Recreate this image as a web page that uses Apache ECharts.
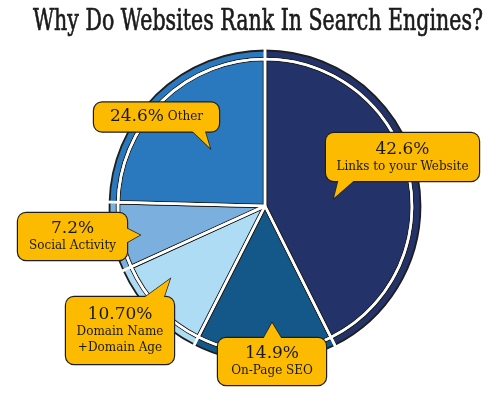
<!DOCTYPE html>
<html>
<head>
<meta charset="utf-8">
<script src="https://cdn.jsdelivr.net/npm/echarts@6/dist/echarts.min.js"></script>
<style>html,body{margin:0;padding:0;background:#fff}#c{width:500px;height:401px}</style>
</head>
<body>
<div id="c"></div>
<script>
// ---- data ----
const titleText = 'Why Do Websites Rank In Search Engines?';
const categories = ['Links to your Website', 'On-Page SEO', 'Domain Name\n+Domain Age', 'Social Activity', 'Other'];
const values = [42.6, 14.9, 10.7, 7.2, 24.6];
const pctLabels = ['42.6%', '14.9%', '10.70%', '7.2%', '24.6%'];
const colors = ['#23336a', '#145789', '#aedcf5', '#7bafdd', '#2a78bd'];

// ---- layout (callout boxes: center x, center y, width, vertical padding, single line) ----
const boxes = [
  {x: 402.5, y: 157, w: 153, pad: [7, 0, 6, 0], one: false},
  {x: 272, y: 361.5, w: 108, pad: [6, 0, 6, 0], one: false},
  {x: 120, y: 330.5, w: 108, pad: [8, 0, 8, 0], one: false},
  {x: 72.5, y: 236.5, w: 109, pad: [6, 0, 6, 0], one: false},
  {x: 156.5, y: 117, w: 125, pad: [5, 0, 5, 0], one: true}
];
const tails = [
  [[339, 178], [357, 178], [334, 198]],
  [[262, 341], [283, 341], [272, 323]],
  [[141, 300], [163, 300], [170, 279]],
  [[124, 227], [124, 244], [140, 235]],
  [[189, 128], [204, 128], [210, 148]]
];
const CENTER = [265, 206];
const R_IN = 147, R_OUT = 155.5;
const YELLOW = '#fdbb00', DARK = '#1e1e1e';
const FONT = '"DejaVu Serif", serif';

const chart = echarts.init(document.getElementById('c'), null, {renderer: 'canvas'});

const colored = values.map((v, i) => ({value: v, name: categories[i], itemStyle: {color: colors[i]}}));
const clear = values.map((v, i) => ({value: v, name: categories[i], itemStyle: {color: 'rgba(0,0,0,0)'}}));

const labelled = values.map((v, i) => {
  const b = boxes[i];
  return {
    value: v, name: categories[i],
    itemStyle: {color: 'rgba(0,0,0,0)'},
    label: {width: b.w, padding: b.pad}
  };
});

// title measurement for horizontal condensing
const TITLE_FONT = '30px "DejaVu Serif"';
const mctx = document.createElement('canvas').getContext('2d');
mctx.font = TITLE_FONT;
const tw = mctx.measureText(titleText).width;
const titleScale = 450 / tw;

const base = {
  type: 'pie', center: CENTER, startAngle: 90, clockwise: true, silent: true,
  animation: false, label: {show: false}, labelLine: {show: false}, emphasis: {disabled: true}
};

const graphics = [];
tails.forEach(t => {
  graphics.push({type: 'polygon', z: 50, silent: true, shape: {points: t},
    style: {fill: YELLOW, stroke: DARK, lineWidth: 1.4}});
  graphics.push({type: 'polygon', z: 150, silent: true, shape: {points: t},
    style: {fill: YELLOW, stroke: null}});
});
graphics.push({
  type: 'text', x: 258, y: 22, z: 200, scaleX: titleScale, scaleY: 1, silent: true,
  style: {text: titleText, font: TITLE_FONT, fill: '#1a1a1a', stroke: '#1a1a1a', lineWidth: 0.7,
    textAlign: 'center', textVerticalAlign: 'middle'}
});

chart.setOption({
  backgroundColor: '#ffffff',
  animation: false,
  graphic: graphics,
  series: [
    Object.assign({}, base, {radius: [R_IN, R_OUT], z: 1, data: colored,
      itemStyle: {borderColor: DARK, borderWidth: 1.8}}),
    Object.assign({}, base, {radius: [0, R_IN], z: 2, data: colored,
      itemStyle: {borderColor: DARK, borderWidth: 4.5}}),
    Object.assign({}, base, {radius: [0, R_IN], z: 3, data: clear,
      itemStyle: {borderColor: '#ffffff', borderWidth: 2.5}}),
    Object.assign({}, base, {radius: [R_IN, 180], z: 3, data: clear,
      itemStyle: {borderColor: '#ffffff', borderWidth: 2.5}}),
    Object.assign({}, base, {
      radius: [0, R_IN], z: 100, data: labelled,
      label: {
        show: true, position: 'inside',
        backgroundColor: YELLOW, borderColor: DARK, borderWidth: 1.2, borderRadius: 8,
        formatter: p => {
          const i = p.dataIndex;
          if (boxes[i].one) return '{p|' + pctLabels[i] + '}{n| ' + categories[i] + '}';
          return '{p|' + pctLabels[i] + '}\n' + categories[i].split('\n').map(s => '{n|' + s + '}').join('\n');
        },
        rich: {
          p: {fontFamily: FONT, fontSize: 17, color: '#1a1a1a', lineHeight: 19, align: 'center'},
          n: {fontFamily: FONT, fontSize: 12, color: '#1a1a1a', lineHeight: 16, align: 'center'}
        }
      },
      labelLayout: p => ({x: boxes[p.dataIndex].x, y: boxes[p.dataIndex].y, align: 'center', verticalAlign: 'middle'})
    })
  ]
});
</script>
</body>
</html>
